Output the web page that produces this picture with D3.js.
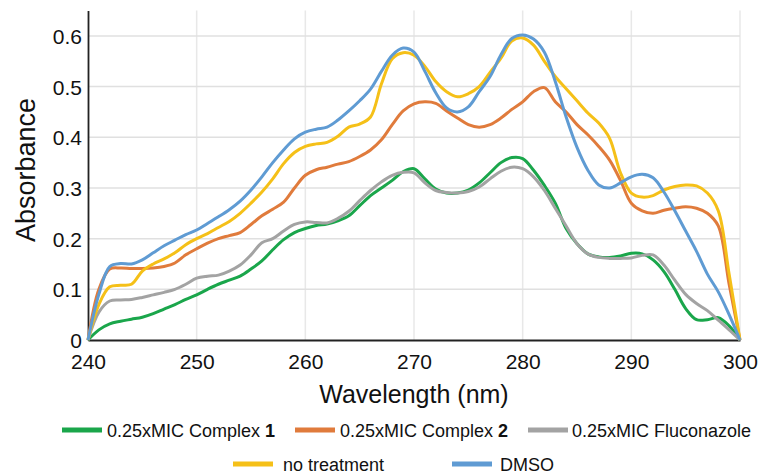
<!DOCTYPE html>
<html>
<head>
<meta charset="utf-8">
<script src="https://cdn.jsdelivr.net/npm/d3@7"></script>
<style>
  body { margin: 0; background: #fff; }
  svg { font-family: "Liberation Sans", Arial, sans-serif; }
</style>
</head>
<body>
<div id="chart"></div>
<script>
// wavelength (nm), one point per nm
const wavelength = d3.range(240, 301);

// absorbance, 240..300 nm
const complex1 = [0, 0.02, 0.032, 0.037, 0.041, 0.045, 0.052, 0.061, 0.07, 0.08,
  0.089, 0.1, 0.11, 0.118, 0.126, 0.14, 0.156, 0.178, 0.198, 0.212,
  0.22, 0.226, 0.229, 0.235, 0.245, 0.265, 0.285, 0.3, 0.315, 0.332,
  0.338, 0.318, 0.298, 0.29, 0.29, 0.296, 0.31, 0.33, 0.35, 0.36,
  0.358, 0.335, 0.305, 0.27, 0.22, 0.19, 0.17, 0.164, 0.163, 0.166,
  0.171, 0.17, 0.158, 0.135, 0.1, 0.062, 0.04, 0.04, 0.044, 0.028, 0];
const complex2 = [0, 0.1, 0.14, 0.142, 0.141, 0.141, 0.142, 0.145, 0.152, 0.168,
  0.18, 0.191, 0.2, 0.206, 0.212, 0.228, 0.245, 0.258, 0.272, 0.3,
  0.325, 0.336, 0.341, 0.347, 0.352, 0.362, 0.375, 0.395, 0.425, 0.452,
  0.466, 0.47, 0.467, 0.452, 0.438, 0.425, 0.42, 0.425, 0.438, 0.455,
  0.47, 0.49, 0.498, 0.47, 0.45, 0.425, 0.405, 0.382, 0.355, 0.315,
  0.27, 0.255, 0.25, 0.256, 0.26, 0.263, 0.26, 0.25, 0.225, 0.11, 0];
const fluconazole = [0, 0.055, 0.077, 0.079, 0.08, 0.084, 0.089, 0.094, 0.1, 0.11,
  0.122, 0.126, 0.128, 0.136, 0.148, 0.168, 0.192, 0.2, 0.215, 0.228,
  0.233, 0.232, 0.231, 0.24, 0.254, 0.275, 0.295, 0.312, 0.325, 0.331,
  0.33, 0.31, 0.295, 0.291, 0.29, 0.293, 0.302, 0.318, 0.333, 0.341,
  0.338, 0.322, 0.295, 0.26, 0.225, 0.19, 0.17, 0.163, 0.161, 0.161,
  0.162, 0.167, 0.168, 0.148, 0.118, 0.09, 0.072, 0.058, 0.039, 0.02, 0];
const noTreatment = [0, 0.07, 0.105, 0.108, 0.11, 0.136, 0.15, 0.16, 0.172, 0.188,
  0.2, 0.21, 0.222, 0.234, 0.25, 0.27, 0.292, 0.318, 0.348, 0.37,
  0.382, 0.387, 0.39, 0.402, 0.42, 0.426, 0.44, 0.505, 0.555, 0.567,
  0.562, 0.54, 0.51, 0.49, 0.48, 0.486, 0.5, 0.528, 0.556, 0.59,
  0.596, 0.582, 0.55, 0.52, 0.496, 0.472, 0.448, 0.428, 0.398, 0.33,
  0.29, 0.282, 0.285, 0.296, 0.303, 0.306, 0.304, 0.29, 0.255, 0.13, 0];
const dmso = [0, 0.09, 0.145, 0.151, 0.15, 0.158, 0.172, 0.186, 0.197, 0.208,
  0.217, 0.23, 0.243, 0.257, 0.274, 0.296, 0.322, 0.35, 0.375, 0.397,
  0.41, 0.416, 0.42, 0.434, 0.452, 0.472, 0.495, 0.53, 0.562, 0.576,
  0.568, 0.53, 0.488, 0.458, 0.45, 0.46, 0.49, 0.52, 0.563, 0.595,
  0.602, 0.594, 0.568, 0.51, 0.44, 0.38, 0.335, 0.306, 0.3, 0.31,
  0.322, 0.327, 0.32, 0.292, 0.255, 0.215, 0.175, 0.13, 0.095, 0.05, 0];

const xTicks = [240, 250, 260, 270, 280, 290, 300];
const yTicks = [0, 0.1, 0.2, 0.3, 0.4, 0.5, 0.6];

const seriesList = [
  {name: "0.25xMIC Complex ", bold: "1", values: complex1, color: "#1aa64b"},
  {name: "0.25xMIC Complex ", bold: "2", values: complex2, color: "#e07b3c"},
  {name: "0.25xMIC Fluconazole", bold: "", values: fluconazole, color: "#a3a3a3"},
  {name: "no treatment", bold: "", values: noTreatment, color: "#f5c018"},
  {name: "DMSO", bold: "", values: dmso, color: "#5f9bd3"}
];

const W = 764, H = 473;
const margin = {top: 10.6, right: 24, bottom: 133, left: 88};

const svg = d3.select("#chart").append("svg")
    .attr("width", W)
    .attr("height", H);

const x = d3.scaleLinear().domain([240, 300]).range([margin.left, W - margin.right]);
const y = d3.scaleLinear().domain([0, 0.65]).range([H - margin.bottom, margin.top]);

// grid
svg.append("g").selectAll("line")
    .data(xTicks.slice(1))
  .enter().append("line")
    .attr("x1", d => x(d)).attr("x2", d => x(d))
    .attr("y1", y(0)).attr("y2", y(0.65))
    .attr("stroke", "#e8e8e8").attr("stroke-width", 1.5);

svg.append("g").selectAll("line")
    .data(yTicks.slice(1))
  .enter().append("line")
    .attr("x1", x(240)).attr("x2", x(300))
    .attr("y1", d => y(d)).attr("y2", d => y(d))
    .attr("stroke", "#e0e0e0").attr("stroke-width", 1.5);

// axes
const xAxis = svg.append("g")
    .attr("transform", `translate(0,${y(0)})`)
    .call(d3.axisBottom(x).tickValues(xTicks).tickSize(0).tickPadding(14));
const yAxis = svg.append("g")
    .attr("transform", `translate(${x(240)},0)`)
    .call(d3.axisLeft(y).tickValues(yTicks).tickFormat(d => d === 0 ? "0" : d3.format(".1f")(d)).tickSize(0).tickPadding(6));

[xAxis, yAxis].forEach(a => {
  a.select(".domain").attr("stroke", "#222").attr("stroke-width", 1.8);
  a.selectAll("text").attr("font-size", 21).attr("fill", "#111")
    .attr("font-family", "Liberation Sans, Arial, sans-serif");
});
yAxis.selectAll("text").attr("dy", "0.36em");

// lines
const line = d3.line()
    .x((d, i) => x(wavelength[i]))
    .y(d => y(d))
    .curve(d3.curveCatmullRom.alpha(0.5));

svg.append("g").selectAll("path")
    .data(seriesList)
  .enter().append("path")
    .attr("d", d => line(d.values))
    .attr("fill", "none")
    .attr("stroke", d => d.color)
    .attr("stroke-width", 3)
    .attr("stroke-linejoin", "round");

// axis titles
svg.append("text")
    .attr("transform", "translate(35,170) rotate(-90)")
    .attr("text-anchor", "middle")
    .attr("font-size", 27)
    .attr("fill", "#111")
    .text("Absorbance");

svg.append("text")
    .attr("x", (x(240) + x(300)) / 2)
    .attr("y", 403)
    .attr("text-anchor", "middle")
    .attr("font-size", 25)
    .attr("fill", "#111")
    .text("Wavelength (nm)");

// legend
const legendPos = [
  {sx: 62, tx: 107, y: 430},
  {sx: 295, tx: 340, y: 430},
  {sx: 528, tx: 572, y: 430},
  {sx: 233, tx: 283, y: 464},
  {sx: 452, tx: 500, y: 464}
];

const legend = svg.append("g").selectAll("g")
    .data(seriesList)
  .enter().append("g");

legend.append("line")
    .attr("x1", (d, i) => legendPos[i].sx)
    .attr("x2", (d, i) => legendPos[i].sx + 40)
    .attr("y1", (d, i) => legendPos[i].y)
    .attr("y2", (d, i) => legendPos[i].y)
    .attr("stroke", d => d.color)
    .attr("stroke-width", 5);

const lt = legend.append("text")
    .attr("x", (d, i) => legendPos[i].tx)
    .attr("y", (d, i) => legendPos[i].y + 6.5)
    .attr("font-size", 18)
    .attr("fill", "#111");
lt.append("tspan").text(d => d.name);
lt.append("tspan").attr("font-weight", "bold").text(d => d.bold);
</script>
</body>
</html>
